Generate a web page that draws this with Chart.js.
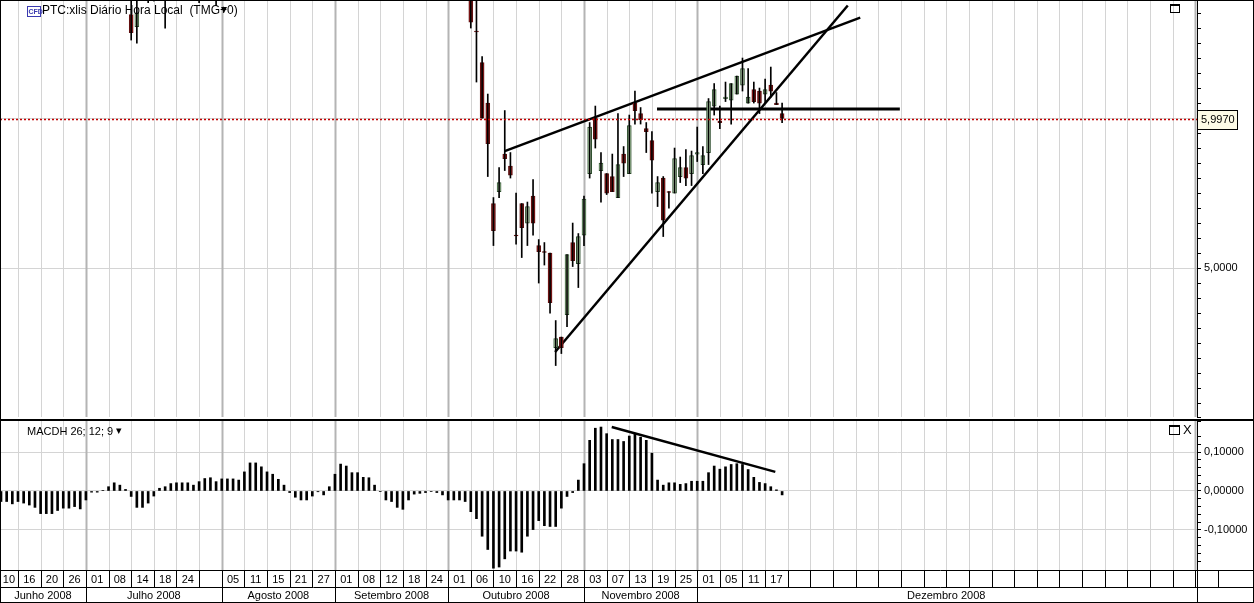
<!DOCTYPE html>
<html>
<head>
<meta charset="utf-8">
<script src="https://cdn.jsdelivr.net/npm/chart.js@4"></script>
<style>
  body { margin: 0; background: #fff; }
  canvas { display: block; }
</style>
</head>
<body>
<canvas id="price" width="1254" height="420"></canvas>
<canvas id="macd" width="1254" height="183"></canvas>
<script>
// candles (slot index, open, high, low, close)
const candleIdx = [23, 24, 26, 27, 29, 35, 38,
  83, 84, 85, 86, 87, 88, 89, 90, 91, 92, 93, 94, 95, 96, 97, 98, 99, 100, 101, 102,
  103, 104, 105, 106, 107, 108, 109, 110, 111, 112, 113, 114, 115, 116, 117, 118, 119, 120,
  121, 122, 123, 124, 125, 126, 127, 128, 129, 130, 131, 132, 133, 134, 135, 136, 137, 138];
const open = [6.69, 6.61, 6.90, 6.90, 6.95, 6.95, 6.95,
  6.85, 6.58, 6.37, 6.10, 5.43, 5.51, 5.76, 5.68, 5.22, 5.43, 5.30, 5.48, 5.15, 5.11, 5.10, 4.47, 4.54, 4.69, 5.17, 5.03,
  5.22, 5.63, 6.00, 5.65, 5.63, 5.61, 5.47, 5.76, 5.63, 6.10, 6.03, 5.93, 5.85, 5.51, 5.60, 5.51, 5.50, 5.61,
  5.67, 5.63, 5.76, 5.69, 5.77, 6.08, 5.98, 6.13, 6.12, 6.16, 6.22, 6.10, 6.19, 6.18, 6.16, 6.22, 6.10, 6.03];
const high = [6.95, 6.95, 6.95, 6.95, 7.00, 7.00, 7.00,
  6.95, 6.80, 6.41, 6.16, 5.47, 5.67, 6.05, 5.77, 5.50, 5.43, 5.44, 5.59, 5.19, 5.17, 5.10, 4.65, 4.54, 5.09, 5.30, 5.23,
  5.48, 5.97, 6.08, 5.77, 5.63, 5.76, 6.03, 5.81, 6.02, 6.18, 6.07, 5.97, 5.91, 5.61, 5.61, 5.51, 5.80, 5.74,
  5.79, 5.78, 5.94, 5.81, 6.13, 6.23, 6.08, 6.24, 6.23, 6.28, 6.40, 6.33, 6.24, 6.20, 6.26, 6.34, 6.17, 6.10];
const low = [6.52, 6.50, 6.77, 6.78, 6.60, 6.77, 6.75,
  6.60, 6.24, 6.00, 5.61, 5.15, 5.47, 5.65, 5.60, 5.16, 5.07, 5.15, 5.22, 4.90, 5.02, 4.70, 4.35, 4.43, 4.61, 5.01, 4.87,
  5.15, 5.60, 5.80, 5.44, 5.49, 5.51, 5.47, 5.61, 5.63, 5.96, 5.96, 5.77, 5.50, 5.41, 5.21, 5.40, 5.50, 5.57,
  5.55, 5.55, 5.71, 5.63, 5.69, 6.02, 5.93, 6.11, 5.96, 6.16, 6.18, 6.10, 6.10, 6.03, 6.10, 6.14, 6.09, 5.97];
const close = [6.57, 6.70, 6.92, 6.92, 6.97, 6.97, 6.97,
  6.64, 6.575, 6.00, 5.83, 5.25, 5.57, 5.73, 5.62, 5.215, 5.27, 5.41, 5.30, 5.11, 5.105, 4.77, 4.53, 4.47, 5.09, 5.05, 5.21,
  5.46, 5.94, 5.86, 5.70, 5.50, 5.51, 5.69, 5.70, 5.95, 6.05, 5.99, 5.91, 5.72, 5.57, 5.32, 5.505, 5.73, 5.67,
  5.60, 5.75, 5.77, 5.75, 6.11, 6.19, 5.97, 6.14, 6.23, 6.28, 6.33, 6.14, 6.11, 6.10, 6.19, 6.18, 6.09, 5.997];
const lastPrice = 5.997;

// MACD histogram, one value per slot starting at slot 0
const macdh = [-0.027, -0.027, -0.033, -0.027, -0.031, -0.036, -0.042, -0.058, -0.058, -0.058,
  -0.050, -0.044, -0.044, -0.040, -0.046, -0.023, -0.003, -0.003, 0.001, 0.011,
  0.021, 0.015, 0.004, -0.014, -0.042, -0.042, -0.031, -0.013, 0.007, 0.011,
  0.019, 0.021, 0.021, 0.021, 0.015, 0.024, 0.032, 0.034, 0.024, 0.031,
  0.031, 0.031, 0.028, 0.049, 0.072, 0.072, 0.062, 0.049, 0.043, 0.030,
  0.015, -0.004, -0.016, -0.023, -0.023, -0.013, -0.002, -0.010, 0.011, 0.043,
  0.069, 0.064, 0.047, 0.047, 0.035, 0.034, 0.015, -0.001, -0.023, -0.027,
  -0.042, -0.047, -0.023, -0.008, -0.006, -0.004, -0.001, -0.004, -0.010, -0.023,
  -0.023, -0.023, -0.027, -0.053, -0.071, -0.116, -0.150, -0.198, -0.195, -0.174,
  -0.154, -0.154, -0.157, -0.116, -0.099, -0.076, -0.089, -0.091, -0.091, -0.044,
  -0.014, -0.004, 0.028, 0.070, 0.130, 0.161, 0.164, 0.147, 0.132, 0.132,
  0.127, 0.141, 0.147, 0.138, 0.130, 0.097, 0.028, 0.015, 0.021, 0.021,
  0.017, 0.019, 0.025, 0.025, 0.025, 0.047, 0.064, 0.056, 0.062, 0.068,
  0.070, 0.068, 0.055, 0.035, 0.022, 0.019, 0.011, 0.003, -0.010];

// hand-drawn trend lines [x1, y1, x2, y2] in slot / value units
const upperLine = [89.0, 5.78, 151.8, 6.67];
const lowerLine = [97.9, 4.44, 149.6, 6.75];
const flatLine = [115.9, 6.06, 158.8, 6.06];
const macdLine = [107.9, 0.164, 136.8, 0.049];

// date axis: one label per 4-slot cell
const dayLabels = ['10', '16', '20', '26', '01', '08', '14', '18', '24', '', '05', '11', '15', '21', '27',
  '01', '08', '12', '18', '24', '01', '06', '10', '16', '22', '28', '03', '07', '13', '19', '25',
  '01', '05', '11', '17'];
const months = ['Junho 2008', 'Julho 2008', 'Agosto 2008', 'Setembro 2008', 'Outubro 2008', 'Novembro 2008', 'Dezembro 2008'];
const monthStartCell = [0, 4, 10, 15, 20, 26, 31, 53];

const X_MIN = -0.177, X_MAX = 211.3;
const FONT = '11px "Liberation Sans", Arial, sans-serif';

const cellEdge = c => 4 * c - 1; // slot position of the left edge of cell c

const gridPlugin = {
  id: 'vgrid',
  beforeDatasetsDraw(chart) {
    const { ctx, chartArea: a, scales: { x } } = chart;
    ctx.save();
    for (let c = 0; cellEdge(c) <= X_MAX; c++) {
      const px = Math.round(x.getPixelForValue(cellEdge(c))) + 0.5;
      if (px < a.left) continue;
      const isMonth = monthStartCell.includes(c);
      ctx.strokeStyle = isMonth ? '#b4b4b4' : '#d4d4d4';
      ctx.lineWidth = isMonth ? 2 : 1;
      ctx.beginPath();
      ctx.moveTo(px, a.top);
      ctx.lineTo(px, a.bottom);
      ctx.stroke();
    }
    ctx.restore();
  }
};

function yAxis(min, max, step, isMajor, digits) {
  return {
    position: 'right',
    min, max,
    afterFit: s => { s.width = 57; s.paddingTop = 0; s.paddingBottom = 0; },
    afterBuildTicks: s => { s.ticks = s.ticks.filter(t => t.value >= min && t.value <= max); },
    ticks: {
      stepSize: step,
      autoSkip: false,
      color: '#000',
      font: { family: '"Liberation Sans", Arial, sans-serif', size: 11 },
      padding: 3,
      callback: v => isMajor(v) ? v.toFixed(digits).replace('.', ',') : ''
    },
    grid: {
      color: c => isMajor(c.tick.value) ? '#d4d4d4' : 'rgba(0,0,0,0)',
      tickColor: '#000',
      tickLength: 4
    },
    border: { display: true, color: '#000', width: 1 }
  };
}

const xAxis = { type: 'linear', min: X_MIN, max: X_MAX, offset: false, display: false, grid: { offset: false } };

const lineDs = (l, w) => ({
  type: 'line',
  data: [{ x: l[0], y: l[1] }, { x: l[2], y: l[3] }],
  borderColor: '#000',
  borderWidth: w,
  pointRadius: 0
});

const bull = candleIdx.map((_, i) => close[i] >= open[i]);

new Chart(document.getElementById('price'), {
  type: 'bar',
  data: {
    datasets: [
      {
        data: candleIdx.map((s, i) => ({ x: s, y: [low[i], high[i]] })),
        backgroundColor: '#000',
        barThickness: 1,
        grouped: false
      },
      {
        data: candleIdx.map((s, i) => ({ x: s, y: [open[i], close[i] === open[i] ? close[i] + 0.004 : close[i]] })),
        backgroundColor: bull.map(b => b ? '#c4e4bc' : '#9e1a1a'),
        borderColor: bull.map(b => b ? '#2f4f2f' : '#5a1010'),
        borderWidth: 1,
        borderSkipped: false,
        barThickness: 4,
        grouped: false
      },
      lineDs(upperLine, 2.5),
      lineDs(lowerLine, 2.5),
      lineDs(flatLine, 3)
    ]
  },
  options: {
    responsive: false,
    animation: false,
    layout: { padding: { top: 0, bottom: 3, left: 0, right: 0 } },
    plugins: { legend: { display: false }, tooltip: { enabled: false } },
    scales: {
      x: xAxis,
      y: yAxis(4.007, 6.787, 0.1, v => Math.abs(v - Math.round(v)) < 1e-6, 4)
    }
  },
  plugins: [gridPlugin, {
    id: 'priceExtras',
    afterDraw(chart) {
      const { ctx, chartArea: a, scales: { y } } = chart;
      ctx.save();
      // last price line
      const py = Math.round(y.getPixelForValue(lastPrice)) + 0.5;
      ctx.strokeStyle = '#c00000';
      ctx.setLineDash([2, 2]);
      ctx.lineWidth = 1.5;
      ctx.beginPath(); ctx.moveTo(a.left, py); ctx.lineTo(a.right, py); ctx.stroke();
      ctx.setLineDash([]);
      ctx.fillStyle = '#fdfbe6';
      ctx.fillRect(a.right, py - 9, 41, 19);
      ctx.strokeStyle = '#000'; ctx.lineWidth = 1;
      ctx.strokeRect(a.right + 0.5, py - 9, 40, 19);
      ctx.fillStyle = '#000';
      ctx.font = FONT;
      ctx.textBaseline = 'middle';
      ctx.fillText('5,9970', a.right + 4, py + 0.5);
      // title
      ctx.strokeStyle = '#3a3ab0';
      ctx.strokeRect(27.5, 6.5, 13, 10);
      ctx.fillStyle = '#3a3ab0';
      ctx.font = 'bold 7px "Liberation Sans", Arial, sans-serif';
      ctx.fillText('CFD', 28.5, 12);
      ctx.fillStyle = '#000';
      ctx.font = '12px "Liberation Sans", Arial, sans-serif';
      ctx.fillText('PTC:xlis Diário Hora Local  (TMG+0)', 42, 11);
      ctx.fillText('▾', 221, 10);
      // window icon
      ctx.strokeStyle = '#000';
      ctx.strokeRect(1170.5, 4.5, 9, 8);
      ctx.fillRect(1170, 4, 10, 2);
      // pane border
      ctx.strokeRect(0.5, 0.5, 1253, 419);
      ctx.restore();
    }
  }]
});

new Chart(document.getElementById('macd'), {
  type: 'bar',
  data: {
    datasets: [
      {
        data: macdh.map((v, i) => ({ x: i, y: v })),
        backgroundColor: '#000',
        barThickness: 2
      },
      lineDs(macdLine, 2.5)
    ]
  },
  options: {
    responsive: false,
    animation: false,
    layout: { padding: { top: 1, bottom: 33, left: 0, right: 0 } },
    plugins: { legend: { display: false }, tooltip: { enabled: false } },
    scales: {
      x: xAxis,
      y: yAxis(-0.2026, 0.1795, 0.02, v => Math.abs(v * 10 - Math.round(v * 10)) < 1e-6, 5)
    }
  },
  plugins: [gridPlugin, {
    id: 'dateAxis',
    afterDraw(chart) {
      const { ctx, chartArea: a, scales: { x } } = chart;
      const r1 = a.bottom, r2 = a.bottom + 17, r3 = 182;
      ctx.save();
      ctx.fillStyle = '#000';
      ctx.strokeStyle = '#000';
      ctx.lineWidth = 1;
      ctx.font = FONT;
      ctx.textBaseline = 'middle';
      ctx.textAlign = 'center';
      [r1, r2, r3].forEach(yy => {
        ctx.beginPath(); ctx.moveTo(0, Math.round(yy) + 0.5); ctx.lineTo(1254, Math.round(yy) + 0.5); ctx.stroke();
      });
      for (let c = 0; cellEdge(c) <= X_MAX + 4; c++) {
        const left = Math.max(0, x.getPixelForValue(cellEdge(c)));
        const right = Math.min(a.right, x.getPixelForValue(cellEdge(c + 1)));
        if (c > 0) {
          const px = Math.round(left) + 0.5;
          ctx.beginPath(); ctx.moveTo(px, r1); ctx.lineTo(px, r2); ctx.stroke();
        }
        if (dayLabels[c]) ctx.fillText(dayLabels[c], (left + right) / 2, (r1 + r2) / 2 + 1);
      }
      for (let m = 0; m < months.length; m++) {
        const left = Math.max(0, x.getPixelForValue(cellEdge(monthStartCell[m])));
        const right = Math.min(a.right, x.getPixelForValue(cellEdge(monthStartCell[m + 1])));
        if (m > 0) {
          const px = Math.round(left) + 0.5;
          ctx.beginPath(); ctx.moveTo(px, r2); ctx.lineTo(px, r3); ctx.stroke();
        }
        ctx.fillText(months[m], (left + right) / 2, (r2 + r3) / 2 + 1);
      }
      ctx.beginPath(); ctx.moveTo(a.right + 0.5, r1); ctx.lineTo(a.right + 0.5, r3); ctx.stroke();
      ctx.textAlign = 'left';
      ctx.fillText('MACDH 26; 12; 9', 27, 12);
      ctx.fillText('▾', 116, 11);
      ctx.strokeRect(1169.5, 5.5, 10, 9);
      ctx.fillRect(1169, 5, 11, 2);
      ctx.font = '13px "Liberation Sans", Arial, sans-serif';
      ctx.fillText('X', 1183, 10);
      ctx.strokeRect(0.5, 0.5, 1253, 182);
      ctx.restore();
    }
  }]
});
</script>
</body>
</html>
